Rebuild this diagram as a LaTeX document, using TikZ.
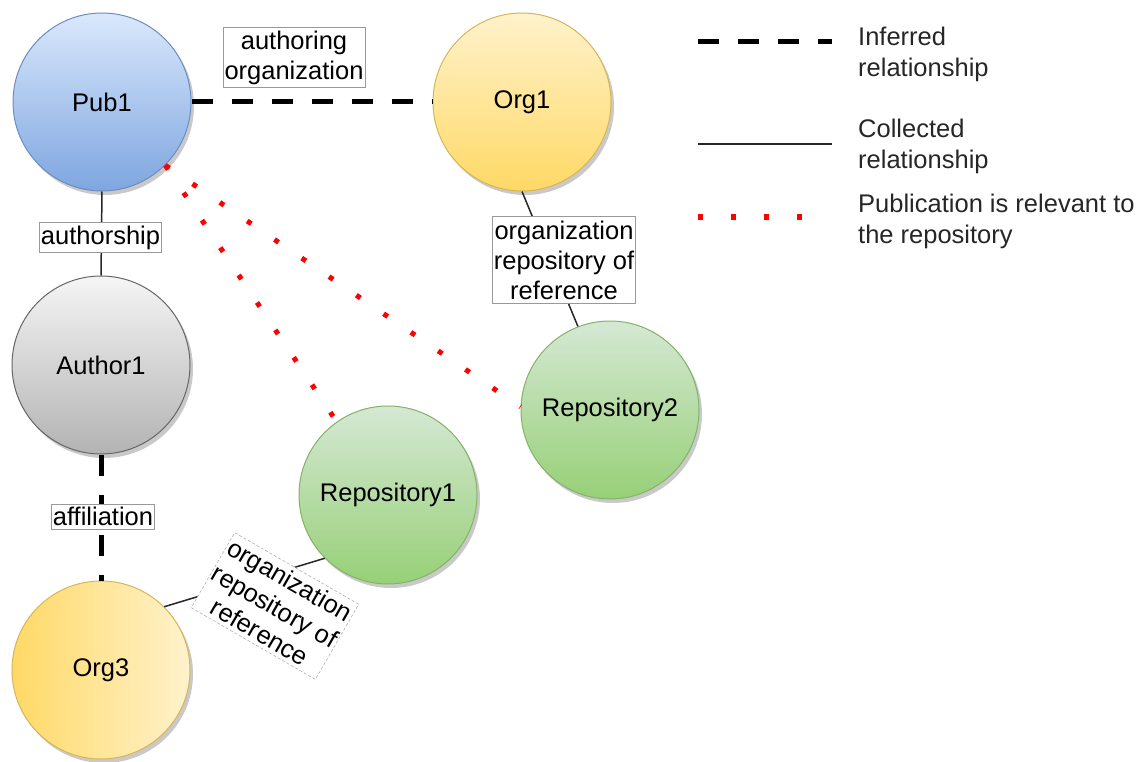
\documentclass[tikz,border=0pt]{standalone}
\usepackage{fontspec}
\setmainfont{Liberation Sans}
\usetikzlibrary{shadows}

\definecolor{pubtop}{HTML}{DAE8FC}
\definecolor{pubbot}{HTML}{7EA6E0}
\definecolor{publine}{HTML}{6C8EBF}
\definecolor{orglight}{HTML}{FFF2CC}
\definecolor{orgdark}{HTML}{FFD966}
\definecolor{orgline}{HTML}{D6B656}
\definecolor{authtop}{HTML}{F5F5F5}
\definecolor{authbot}{HTML}{B3B3B3}
\definecolor{authline}{HTML}{666666}
\definecolor{repotop}{HTML}{D5E8D4}
\definecolor{repobot}{HTML}{97D077}
\definecolor{repoline}{HTML}{82B366}

\begin{document}
\begin{tikzpicture}[x=1pt,y=-1pt,
  every node/.style={font=\fontsize{25.5}{30}\selectfont},
  entity/.style={circle, draw, line width=1pt, minimum size=178pt, inner sep=0pt,
    drop shadow={shadow xshift=3pt, shadow yshift=-4pt, opacity=0.3, fill=black!70}},
  pubnode/.style={entity, draw=publine, top color=pubtop, bottom color=pubbot},
  orgnode/.style={entity, draw=orgline, top color=orglight, bottom color=orgdark},
  orgsidenode/.style={entity, draw=orgline, left color=orgdark, right color=orglight},
  authornode/.style={entity, draw=authline, top color=authtop, bottom color=authbot},
  reponode/.style={entity, draw=repoline, top color=repotop, bottom color=repobot},
  inferred/.style={line width=5pt, draw=black, dash pattern=on 21pt off 19pt},
  collected/.style={line width=1.5pt, draw=black!85},
  relevant/.style={line width=5pt, draw=red, dash pattern=on 5pt off 28pt},
  edgelabel/.style={draw=black!40, line width=0.6pt, fill=white, align=center,
    inner xsep=1.5pt, inner ysep=3pt},
  slantlabel/.style={edgelabel, draw=black!35, densely dashed, line width=0.5pt, inner ysep=4pt},
  legendtext/.style={align=left, anchor=west, inner sep=0pt, text=black!85,
    font=\fontsize{25.5}{31}\selectfont}
]
\useasboundingbox (0,0) rectangle (1148,762);

% entities
\node[pubnode]     (pub1)    at (102,102) {Pub1};
\node[orgnode]     (org1)    at (522,102) {Org1};
\node[authornode]  (author1) at (101,365) {Author1};
\node[orgsidenode] (org3)    at (101,670) {Org3};
\node[reponode]    (repo1)   at (388,495) {Repository1};
\node[reponode]    (repo2)   at (610,410) {Repository2};

% relationships
\draw[inferred]  (pub1.east) -- (org1.west);
\draw[inferred]  (author1.south) -- (org3.north);
\draw[collected] (pub1.south) -- (author1.north);
\draw[collected] (org1.south) -- (repo2.111);
\draw[collected] (org3.45) -- (repo1.225);
\draw[relevant]  (pub1.-45) -- (repo1.125);
\draw[relevant]  (pub1.-45) -- (repo2.178);

% relationship labels
\node[edgelabel] (lblAuthOrg) at (294,57.5) {authoring\\organization};
\node[edgelabel] (lblAuthship) at (100.5,237.5) {authorship};
\node[edgelabel] (lblAffil) at (103,516.5) {affiliation};
\node[edgelabel, inner ysep=4pt] (lblRepoRef2) at (564,260) {organization\\repository of\\reference};
\node[slantlabel, rotate=-30] (lblRepoRef1) at (275,606) {organization\\repository of\\reference};

% legend
\coordinate (infA) at (698,42);  \coordinate (infB) at (832,42);
\coordinate (colA) at (698,144); \coordinate (colB) at (832,144);
\coordinate (relA) at (698,217); \coordinate (relB) at (805,217);
\draw[inferred]  (infA) -- (infB);
\draw[collected] (colA) -- (colB);
\draw[relevant]  (relA) -- (relB);
\node[legendtext] (lgInf) at (858,54) {Inferred\\relationship};
\node[legendtext] (lgCol) at (858,146) {Collected\\relationship};
\node[legendtext] (lgRel) at (858,221) {Publication is relevant to\\the repository};
\end{tikzpicture}
\end{document}
